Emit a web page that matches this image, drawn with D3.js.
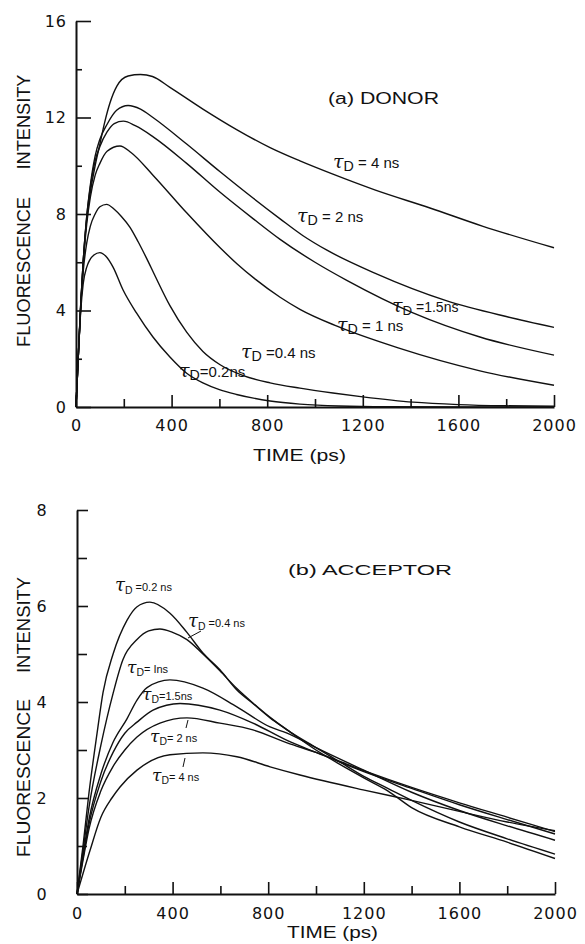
<!DOCTYPE html>
<meta charset="utf-8">
<style>
body { margin: 0; background: #fff; }
.curve { fill: none; stroke: #111; stroke-width: 1.4; }
.axis path, .axis line { stroke: #111; }
.axis path { stroke-width: 2; }
.axis line { stroke-width: 1.6; }
.axis text { font-family: "DejaVu Sans", sans-serif; font-size: 16px; fill: #111; letter-spacing: 1px; }
.title { font-family: "Liberation Sans", Arial, sans-serif; fill: #111; }
.tau { font-family: "DejaVu Serif", serif; font-style: italic; fill: #111; }
</style>
<body>
<script src="https://cdnjs.cloudflare.com/ajax/libs/d3/7.8.5/d3.min.js"></script>
<script>
// ---- data: [time ps, intensity] ----
var donor4  = [[0,0],[10,2.2],[20,4.3],[30,6.0],[45,7.8],[60,8.9],[80,10.0],[100,10.9],[120,11.8],[142,12.6],[171,13.3],[218,13.72],[270,13.78],[320,13.7],[393,13.25],[531,12.35],[672,11.5],[812,10.75],[937,10.2],[1075,9.65],[1250,9.0],[1481,8.25],[1700,7.5],[2000,6.6]];
var donor2  = [[0,0],[10,2.2],[20,4.3],[30,6.0],[45,7.9],[60,9.2],[80,10.4],[100,11.1],[129,11.7],[170,12.3],[218,12.5],[270,12.35],[322,12.0],[463,10.9],[603,9.75],[742,8.65],[854,7.8],[950,7.1],[1050,6.5],[1250,5.55],[1552,4.4],[1800,3.75],[2000,3.3]];
var donor15 = [[0,0],[10,2.2],[20,4.3],[30,6.0],[45,7.9],[60,9.1],[80,10.2],[100,10.8],[130,11.4],[160,11.75],[198,11.85],[250,11.65],[323,11.2],[463,10.1],[603,8.9],[742,7.8],[854,6.95],[1000,6.0],[1133,5.25],[1410,3.9],[1690,2.9],[2000,2.15]];
var donor1  = [[0,0],[10,2.2],[20,4.2],[30,5.9],[45,7.6],[60,8.7],[80,9.6],[100,10.1],[130,10.6],[184,10.82],[230,10.55],[323,9.6],[463,8.05],[603,6.6],[672,5.95],[750,5.3],[854,4.55],[937,4.05],[1092,3.35],[1348,2.45],[1690,1.5],[2000,0.9]];
var donor04 = [[0,0],[10,2.2],[20,4.2],[30,5.6],[45,6.8],[60,7.5],[80,8.0],[100,8.3],[128,8.4],[160,8.2],[190,7.9],[226,7.45],[260,6.85],[296,6.15],[330,5.45],[393,4.2],[463,3.1],[531,2.3],[603,1.75],[700,1.3],[812,1.0],[937,0.78],[1075,0.58],[1200,0.42],[1410,0.2],[1600,0.1],[1800,0.05],[2000,0.03]];
var donor02 = [[0,0],[10,2.2],[20,4.0],[30,5.1],[45,5.8],[58,6.1],[75,6.3],[100,6.4],[125,6.25],[155,5.8],[197,4.85],[253,3.9],[322,2.9],[393,2.07],[463,1.4],[531,1.0],[600,0.72],[672,0.52],[812,0.25],[937,0.12],[1100,0.04],[1300,0.01],[2000,0]];

var acc02 = [[0,0],[25,1.0],[50,2.1],[84,3.35],[109,4.2],[151,5.0],[209,5.7],[250,5.98],[305,6.08],[389,5.85],[460,5.45],[527,5.02],[598,4.67],[669,4.25],[736,3.97],[808,3.67],[879,3.42],[1000,3.0],[1100,2.7],[1200,2.42],[1300,2.15],[1400,1.8],[1600,1.4],[1800,1.08],[2000,0.74]];
var acc04 = [[0,0],[25,0.9],[50,1.8],[100,3.1],[151,4.18],[192,4.88],[251,5.3],[300,5.48],[347,5.52],[400,5.45],[460,5.3],[527,5.0],[598,4.65],[669,4.28],[736,3.98],[808,3.68],[879,3.42],[1000,3.05],[1100,2.75],[1200,2.45],[1300,2.2],[1400,1.95],[1600,1.5],[1800,1.15],[2000,0.83]];
var acc1  = [[0,0],[25,0.8],[50,1.55],[100,2.5],[150,3.15],[209,3.65],[251,4.04],[293,4.3],[389,4.46],[527,4.29],[669,3.9],[808,3.48],[879,3.35],[1000,3.05],[1200,2.58],[1400,2.12],[1600,1.74],[1800,1.42],[2000,1.12]];
var acc15 = [[0,0],[25,0.75],[50,1.45],[100,2.35],[151,2.95],[200,3.35],[251,3.58],[318,3.83],[431,3.97],[598,3.83],[736,3.56],[879,3.2],[1000,2.95],[1200,2.55],[1400,2.2],[1600,1.86],[1800,1.55],[2000,1.25]];
var acc2  = [[0,0],[25,0.7],[50,1.35],[100,2.15],[150,2.65],[200,3.0],[251,3.27],[347,3.56],[460,3.67],[598,3.56],[736,3.42],[879,3.15],[1000,2.95],[1200,2.57],[1400,2.22],[1600,1.9],[1800,1.6],[2000,1.3]];
var acc4  = [[0,0],[54,0.9],[100,1.6],[146,2.0],[180,2.23],[251,2.58],[389,2.9],[527,2.94],[669,2.86],[808,2.65],[933,2.48],[1197,2.17],[1400,1.95],[1600,1.72],[1800,1.5],[2000,1.32]];

// tick values
var xMajor = [0, 400, 800, 1200, 1600, 2000];
var xMinor = [200, 600, 1000, 1400, 1800];
var yMajorA = [0, 4, 8, 12, 16], yMinorA = [2, 6, 10, 14];
var yMajorB = [0, 2, 4, 6, 8],   yMinorB = [1, 3, 5, 7];

var svg = d3.select("body").append("svg")
    .attr("width", 585)
    .attr("height", 944);

svg.append("rect").attr("width", 585).attr("height", 944).attr("fill", "#fff");

// draws one panel, returns scales
function panel(o) {
  var x = d3.scaleLinear().domain([0, 2000]).range([o.x0, o.x1]);
  var y = d3.scaleLinear().domain([0, o.ymax]).range([o.y0, o.y1]);

  // y axis (ticks point inward)
  var ya = svg.append("g").attr("class", "axis")
      .attr("transform", "translate(" + o.x0 + ",0)")
      .call(d3.axisLeft(y).tickValues(o.yMajor).tickSizeInner(-o.yTick).tickSizeOuter(0).tickPadding(o.yPad));
  ya.selectAll("text").attr("text-anchor", o.yAnchor);
  svg.append("g").attr("class", "axis")
      .attr("transform", "translate(" + o.x0 + ",0)")
      .call(d3.axisLeft(y).tickValues(o.yMinor).tickSizeInner(-o.yMinorTick).tickSizeOuter(0).tickFormat(""))
      .select(".domain").remove();

  // x axis
  svg.append("g").attr("class", "axis")
      .attr("transform", "translate(0," + o.y0 + ")")
      .call(d3.axisBottom(x).tickValues(xMajor).tickSizeInner(-12).tickSizeOuter(0).tickPadding(o.xPad).tickFormat(d3.format("d")));
  svg.append("g").attr("class", "axis")
      .attr("transform", "translate(0," + o.y0 + ")")
      .call(d3.axisBottom(x).tickValues(xMinor).tickSizeInner(-8).tickSizeOuter(0).tickFormat(""))
      .select(".domain").remove();

  var line = d3.line()
      .x(function(d) { return x(d[0]); })
      .y(function(d) { return y(d[1]); })
      .curve(d3.curveMonotoneX);

  o.series.forEach(function(s) {
    svg.append("path").attr("class", "curve").attr("d", line(s));
  });
  return {x: x, y: y};
}

var A = panel({x0: 76, x1: 554, y0: 407, y1: 21, ymax: 16, yMajor: yMajorA, yMinor: yMinorA,
  yTick: 15, yMinorTick: 6, yPad: 9, yAnchor: "end", xPad: 13,
  series: [donor4, donor2, donor15, donor1, donor04, donor02]});
var B = panel({x0: 77, x1: 555, y0: 894, y1: 510, ymax: 8, yMajor: yMajorB, yMinor: yMinorB,
  yTick: 11, yMinorTick: 10, yPad: 35, yAnchor: "middle", xPad: 14,
  series: [acc02, acc04, acc1, acc15, acc2, acc4]});

// axis titles
function vtitle(txt, cx, cy, len) {
  svg.append("text").attr("class", "title")
      .attr("transform", "translate(" + cx + "," + cy + ") rotate(-90)")
      .attr("text-anchor", "middle").attr("dy", "0.36em")
      .attr("font-size", 18).attr("textLength", len).attr("lengthAdjust", "spacingAndGlyphs")
      .text(txt);
}
vtitle("INTENSITY", 24, 122, 95);
vtitle("FLUORESCENCE", 24, 272, 150);
vtitle("INTENSITY", 24, 625, 96);
vtitle("FLUORESCENCE", 24, 778, 158);

function htitle(txt, x, y, len, size) {
  svg.append("text").attr("class", "title")
      .attr("x", x).attr("y", y).attr("font-size", size)
      .attr("textLength", len).attr("lengthAdjust", "spacingAndGlyphs")
      .text(txt);
}
htitle("TIME  (ps)", 253, 461, 93, 17);
htitle("TIME  (ps)", 287, 938, 91, 16);
htitle("(a)  DONOR", 328, 104, 111, 16);
htitle("(b)   ACCEPTOR", 288, 575, 164, 15);

// curve labels: tau sub D = value
function tauLabel(x, y, rest, big, small) {
  var t = svg.append("text").attr("x", x).attr("y", y).attr("fill", "#111");
  t.append("tspan").attr("class", "tau").attr("font-size", big).text("τ");
  t.append("tspan").attr("class", "title").attr("font-size", small * 0.95).attr("dy", 3).text("D");
  t.append("tspan").attr("class", "title").attr("font-size", small).attr("dy", -3).text(rest);
}
tauLabel(333, 168, " = 4 ns", 19, 15);
tauLabel(297, 222, "  = 2 ns", 19, 15);
tauLabel(392, 312, " =1.5ns", 19, 14);
tauLabel(337, 331, " = 1 ns", 19, 15);
tauLabel(241, 358, " =0.4 ns", 19, 15);
tauLabel(179, 377, "=0.2ns", 19, 15);

tauLabel(115, 591, " =0.2 ns", 18, 11);
tauLabel(188, 627, " =0.4 ns", 18, 11);
tauLabel(127, 673, "= Ins", 17, 11);
tauLabel(142, 700, "=1.5ns", 17, 11);
tauLabel(150, 742, "= 2 ns", 17, 11);
tauLabel(152, 781, "= 4 ns", 17, 11);

// small leader strokes in panel (b)
svg.append("line").attr("x1", 188).attr("y1", 638).attr("x2", 201).attr("y2", 631).attr("stroke", "#111");
svg.append("line").attr("x1", 188).attr("y1", 720).attr("x2", 186).attr("y2", 728).attr("stroke", "#111");
svg.append("line").attr("x1", 185).attr("y1", 758).attr("x2", 183).attr("y2", 767).attr("stroke", "#111");
</script>
</body>
